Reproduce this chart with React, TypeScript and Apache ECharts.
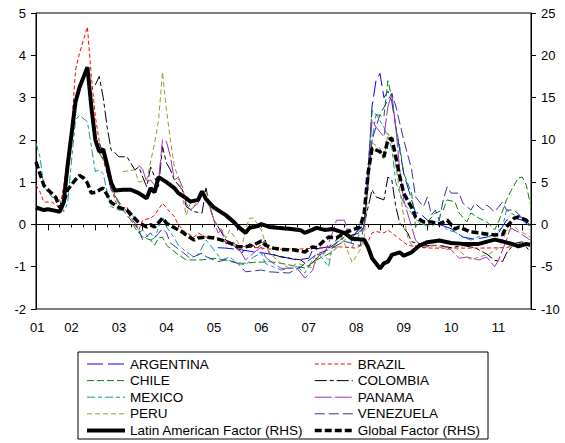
import React, { useEffect, useRef } from "react";
import * as echarts from "echarts";

// x = months since Jan 2001 (Jan 2001 = 0); countries on LHS, factors on RHS
const yearLabelMonths = [9.3, 18, 30, 42, 54, 66, 78, 90, 102, 114, 126];
const quarterTicks = Array.from({ length: 42 }, (_, i) => 9 + i * 3);
const yearTicks = [12, 24, 36, 48, 60, 72, 84, 96, 108, 120, 132];

const argentina = [[55,-0.55],[57,-0.56],[61,-0.6],[64,-0.65],[67,-0.68],[71,-0.76],[75,-0.84],[78,-0.8],[79,-0.6],[81,-0.56],[83,-0.53],[85,-0.37],[87,-0.2],[89,-0.32],[90,-0.18],[92,0.03],[93,1.2],[94,2.8],[95,3.4],[96,3.57],[97,3.0],[98,3.15],[99,2.9],[100,2.3],[101,1.76],[102,1.21],[104,0.58],[105,0.27],[106,0.27],[108,0.1],[111,0.0],[114,-0.1],[117,-0.3],[120,-0.35],[123,-0.3],[126,-0.2],[128,0.1],[130,0.15],[132,0.1],[134,-0.05]];
const brazil = [[9,0.93],[10,0.77],[11,0.53],[13,0.53],[15,0.39],[16,0.89],[18,2.3],[19,3.65],[20,4.05],[22,4.67],[23,3.5],[24,2.55],[25,1.96],[26,1.52],[28,0.89],[29,0.58],[30,0.34],[32,0.42],[33,0.1],[35,-0.13],[36,0.1],[38,0.15],[39,0.22],[41,0.5],[42,0.39],[44,0.18],[45,-0.01],[47,-0.2],[49,-0.3],[50,-0.2],[52,-0.3],[55,-0.32],[57,-0.41],[60,-0.49],[62,-0.53],[66,-0.56],[69,-0.59],[76,-0.58],[86,-0.53],[90,-0.56],[93,-0.4],[94,-0.2],[95,-0.17],[97,-0.2],[98,-0.13],[99,-0.2],[101,-0.35],[103,-0.49],[105,-0.53],[109,-0.56],[121,-0.56],[128,-0.55],[131,-0.45],[134,-0.5]];
const chile = [[25,1.69],[27,1.36],[28,1.12],[29,0.65],[31,0.34],[33,0.1],[34,-0.08],[36,-0.3],[38,-0.37],[39,-0.49],[40,-0.32],[41,-0.3],[42,-0.49],[45,-0.72],[47,-0.84],[51,-0.84],[54,-0.8],[57,-0.84],[61,-0.92],[64,-0.9],[68,-0.88],[71,-0.92],[77,-1.03],[80,-0.84],[84,-0.65],[87,-0.37],[90,-0.2],[92,-0.01],[94,2.7],[95,2.6],[97,2.55],[98,3.4],[99,3.0],[100,2.3],[101,1.84],[102,1.21],[104,0.74],[105,-0.06],[107,0.1],[108,0.06],[110,0.27],[112,0.34],[113,0.58],[115,0.53],[116,0.27],[118,0.06],[119,0.27],[121,0.15],[123,0.06],[125,-0.13],[126,0.06],[128,0.58],[129,0.77],[131,1.1],[132,1.12],[133,0.93],[134,0.5]];
const colombia = [[24,3.3],[25,3.5],[26,3.0],[27,2.3],[28,1.76],[29,1.69],[30,1.6],[32,1.6],[33,1.45],[34,1.29],[35,1.36],[36,1.12],[37,0.89],[38,1.36],[39,1.12],[40,0.89],[41,1.84],[42,1.45],[43,1.29],[44,1.05],[46,0.82],[47,0.42],[49,0.3],[51,0.27],[52,0.86],[53,0.42],[54,0.1],[56,-0.2],[57,-0.37],[59,-0.49],[61,-0.68],[63,-0.45],[65,-0.56],[67,-0.37],[68,-0.68],[71,-0.77],[76,-0.84],[78,-1.0],[81,-0.7],[84,-0.5],[87,-0.3],[91,-0.2],[92,0.0],[94,0.82],[95,0.65],[97,0.58],[98,1.12],[99,1.05],[100,0.42],[101,0.03],[103,-0.2],[104,-0.41],[108,-0.5],[111,-0.5],[114,-0.55],[117,-0.5],[120,-0.55],[123,-0.7],[125,-0.85],[127,-0.88],[128,-0.68],[130,-0.45],[132,-0.41],[134,-0.65]];
const mexico = [[9,1.93],[10,1.6],[11,0.89],[13,0.65],[15,0.58],[16,0.3],[17,0.5],[18,1.52],[19,2.47],[20,2.58],[22,2.43],[23,1.84],[24,1.25],[25,1.29],[26,1.2],[27,0.77],[28,0.42],[30,0.34],[32,0.34],[34,0.15],[35,-0.2],[36,-0.13],[38,-0.37],[39,-0.32],[41,0.18],[42,-0.06],[44,-0.32],[45,-0.49],[47,-0.65],[49,-0.77],[50,-0.72],[52,-0.37],[54,-0.6],[56,-0.84],[58,-0.77],[60,-0.92],[62,-0.96],[64,-0.77],[66,-0.68],[67,-0.92],[69,-1.0],[71,-1.08],[75,-1.0],[77,-1.15],[80,-0.68],[81,-0.75],[83,-1.0],[84,-0.53],[86,-0.37],[88,-0.06],[89,-0.53],[91,-0.2],[92,-0.06],[94,2.0],[95,2.6],[97,2.3],[99,1.8],[100,1.0],[102,0.5],[106,0.03],[109,-0.06],[111,0.1],[113,-0.13],[115,-0.18],[117,-0.3],[119,-0.37],[122,-0.25],[124,-0.3],[127,-0.06],[128,0.34],[130,0.22],[132,0.15],[134,-0.06]];
const panama = [[35,1.4],[36,1.3],[37,1.0],[38,1.05],[39,0.93],[40,1.05],[41,2.0],[42,1.96],[43,1.6],[44,1.05],[45,1.12],[46,0.89],[47,0.5],[48,0.34],[50,0.5],[51,0.74],[53,0.39],[54,0.1],[55,-0.2],[56,-0.13],[57,-0.45],[59,-0.42],[61,-0.68],[62,-0.84],[64,-0.68],[66,-0.53],[67,-0.77],[69,-0.92],[71,-1.04],[75,-1.03],[77,-1.27],[79,-1.08],[80,-0.72],[82,-0.68],[84,-0.2],[85,0.1],[87,0.1],[88,-0.2],[89,-0.37],[90,-0.25],[92,-0.06],[94,2.47],[95,2.3],[97,2.07],[98,2.78],[99,3.1],[100,2.3],[101,1.29],[102,0.58],[104,-0.06],[105,-0.37],[107,-0.56],[109,-0.49],[112,-0.5],[114,-0.6],[116,-0.8],[118,-0.77],[121,-0.84],[123,-0.77],[125,-1.0],[126,-0.84],[128,-0.37],[129,-0.08],[131,-0.18],[134,-0.37]];
const peru = [[31,1.25],[34,1.29],[35,1.0],[37,1.05],[39,1.92],[40,2.47],[41,3.6],[42,2.7],[43,2.0],[44,1.36],[45,1.12],[47,0.22],[48,0.5],[49,0.42],[50,0.65],[52,0.82],[53,0.39],[54,0.1],[56,-0.13],[57,-0.32],[58,-0.13],[60,-0.41],[61,-0.56],[62,-0.13],[63,0.15],[64,0.15],[66,-0.13],[67,-0.44],[68,-0.68],[71,-0.92],[73,-1.03],[75,-0.92],[79,-1.03],[81,-0.65],[83,-0.84],[84,-0.53],[86,-0.25],[87,-0.45],[89,-0.9],[91,-0.6],[92,-0.3],[94,1.93],[96,1.8],[97,1.52],[98,2.16],[99,1.93],[101,0.82],[102,0.18],[103,-0.3],[104,-0.49],[108,-0.53],[110,-0.5],[113,-0.6],[115,-0.55],[118,-0.77],[119,-0.84],[121,-0.77],[123,-0.72],[124,-0.68],[126,-0.56],[128,-0.18],[130,-0.06],[131,-0.13],[134,-0.3]];
const venezuela = [[25,1.93],[26,1.69],[27,1.22],[28,0.82],[30,0.53],[32,0.3],[34,0.03],[35,-0.13],[36,-0.37],[38,-0.2],[39,-0.32],[41,-0.1],[42,-0.2],[43,-0.44],[46,-0.65],[48,-0.8],[51,-0.68],[52,-0.76],[55,-0.88],[57,-0.84],[60,-0.92],[62,-1.12],[66,-1.08],[68,-1.12],[73,-1.15],[76,-1.0],[80,-0.7],[83,-0.6],[87,-0.4],[91,-0.5],[92,0.0],[94,2.0],[96,2.6],[99,3.1],[100,2.8],[102,2.0],[104,1.3],[105,0.65],[107,0.42],[108,0.65],[109,0.22],[110,0.34],[111,0.1],[112,0.58],[113,0.89],[114,0.74],[116,0.74],[117,0.5],[119,0.34],[120,0.5],[122,0.34],[123,0.46],[125,0.3],[127,0.53],[128,0.34],[130,0.34],[132,0.15],[134,-0.01]];
const latinFactor = [[9,2.0],[11,1.7],[12,1.8],[14,1.6],[15,1.5],[16,2.6],[17,7.0],[19,14.5],[20,16.2],[22,18.6],[23,13.9],[24,10.0],[25,8.6],[26,8.9],[27,7.0],[28,4.9],[29,4.0],[31,4.1],[33,4.1],[34,3.9],[35,3.7],[37,3.1],[38,4.3],[39,3.8],[40,5.6],[42,5.0],[44,4.3],[45,3.7],[47,3.1],[48,2.7],[50,2.9],[51,3.9],[52,3.0],[54,2.0],[56,1.4],[57,1.1],[59,0.3],[60,-0.2],[62,-1.0],[63,-0.4],[65,-0.2],[66,0.05],[68,-0.3],[70,-0.4],[73,-0.5],[76,-0.7],[77,-1.0],[80,-0.4],[82,-0.65],[84,-0.55],[87,-1.0],[89,-1.7],[92,-1.8],[93,-2.7],[94,-4.0],[96,-5.2],[97,-4.6],[98,-4.4],[99,-3.6],[101,-3.3],[102,-3.7],[104,-3.3],[106,-2.5],[108,-2.1],[111,-1.9],[114,-2.2],[117,-2.3],[121,-2.3],[125,-1.8],[127,-2.0],[130,-2.4],[131,-2.6],[133,-2.3],[134,-2.4]];
const globalFactor = [[9,7.4],[11,4.6],[12,4.1],[14,3.2],[15,2.0],[16,2.6],[17,4.1],[19,5.3],[20,5.8],[21,5.5],[22,4.9],[23,3.7],[24,3.8],[26,4.3],[27,3.5],[28,2.6],[30,2.0],[32,1.7],[34,0.7],[35,0.2],[37,-0.3],[38,-0.05],[39,-0.3],[41,0.75],[42,0.15],[44,-0.4],[46,-0.9],[47,-1.25],[49,-1.85],[50,-1.6],[52,-1.5],[54,-1.6],[56,-1.85],[58,-2.2],[60,-2.65],[62,-2.65],[64,-2.45],[66,-1.95],[67,-2.45],[69,-2.8],[71,-2.95],[74,-3.0],[77,-3.25],[79,-2.65],[80,-2.75],[82,-1.85],[83,-1.5],[85,-1.6],[87,-1.0],[89,-0.65],[91,-0.3],[92,1.3],[93,6.1],[94,9.0],[95,8.8],[96,8.6],[97,8.0],[98,10.0],[99,10.2],[100,8.0],[101,5.7],[102,3.7],[104,2.0],[105,0.9],[107,0.3],[109,0.3],[111,0.05],[113,0.5],[115,-0.55],[116,-0.3],[119,-0.9],[121,-1.0],[125,-1.25],[127,-1.2],[128,-0.3],[130,0.75],[131,0.9],[133,0.5],[134,-0.05]];

const FONT = "Liberation Sans, Arial, Helvetica, sans-serif";

const countrySeries = [
  { name: "ARGENTINA", data: argentina, color: "#0000ff", dash: [16, 5] },
  { name: "BRAZIL", data: brazil, color: "#ff0000", dash: [4, 2.5] },
  { name: "CHILE", data: chile, color: "#008800", dash: [7, 3] },
  { name: "COLOMBIA", data: colombia, color: "#000000", dash: [12, 3, 4, 3] },
  { name: "MEXICO", data: mexico, color: "#119999", dash: [8, 3, 4, 3] },
  { name: "PANAMA", data: panama, color: "#a030c0", dash: [17, 3] },
  { name: "PERU", data: peru, color: "#999933", dash: [5, 3] },
  { name: "VENEZUELA", data: venezuela, color: "#333399", dash: [10, 4] },
];

export default function App() {
  const ref = useRef<HTMLDivElement>(null);
  useEffect(() => {
    if (!ref.current) return;
    const chart = echarts.init(ref.current, null, { renderer: "svg" });
    const axisText = { color: "#000", fontFamily: FONT, fontSize: 13 };
    const series: any[] = countrySeries.map((c) => ({
      name: c.name,
      type: "line",
      yAxisIndex: 0,
      symbol: "none",
      data: c.data,
      lineStyle: { color: c.color, width: 1, type: c.dash },
      itemStyle: { color: c.color },
    }));
    series.push({
      name: "Latin American Factor (RHS)",
      type: "line",
      yAxisIndex: 1,
      symbol: "none",
      data: latinFactor,
      lineStyle: { color: "#000", width: 4, type: "solid" },
      itemStyle: { color: "#000" },
      z: 4,
    });
    series.push({
      name: "Global Factor (RHS)",
      type: "line",
      yAxisIndex: 1,
      symbol: "none",
      data: globalFactor,
      lineStyle: { color: "#000", width: 3.5, type: [7, 3] },
      itemStyle: { color: "#000" },
      z: 4,
    });
    const legendCommon = {
      orient: "vertical",
      itemWidth: 38,
      itemHeight: 12,
      itemGap: 2.6,
      height: 100,
      selectedMode: false,
      itemStyle: { opacity: 0 },
      lineStyle: { width: "inherit" },
      textStyle: { color: "#000", fontFamily: FONT, fontSize: 13.5 },
      padding: 0,
    };
    chart.setOption({
      animation: false,
      backgroundColor: "#fff",
      grid: { left: 36, right: 34, top: 13, bottom: 134, show: true, borderColor: "#000", borderWidth: 1 },
      xAxis: [
        {
          type: "value",
          min: 9,
          max: 134.2,
          axisLine: { show: true, lineStyle: { color: "#000", width: 1 } },
          splitLine: { show: false },
          axisTick: { show: true, customValues: quarterTicks, length: 3, lineStyle: { color: "#000" } },
          axisLabel: {
            show: true,
            customValues: yearLabelMonths,
            margin: 12,
            ...axisText,
            formatter: (v: number) => String(Math.floor(v / 12) + 1).padStart(2, "0"),
          },
        },
        {
          type: "value",
          min: 9,
          max: 134.2,
          position: "bottom",
          axisLine: { show: false },
          splitLine: { show: false },
          axisTick: { show: true, customValues: yearTicks, length: 6, lineStyle: { color: "#000" } },
          axisLabel: { show: false },
        },
      ],
      yAxis: [
        {
          type: "value",
          min: -2,
          max: 5,
          interval: 1,
          position: "left",
          axisLine: { show: true, lineStyle: { color: "#000" } },
          axisTick: { show: true, length: 5, lineStyle: { color: "#000" } },
          splitLine: { show: false },
          axisLabel: { margin: 10, ...axisText },
        },
        {
          type: "value",
          min: -10,
          max: 25,
          interval: 5,
          position: "right",
          axisLine: { show: true, lineStyle: { color: "#000" } },
          axisTick: { show: true, length: 5, lineStyle: { color: "#000" } },
          splitLine: { show: false },
          axisLabel: { margin: 10, ...axisText },
        },
      ],
      legend: [
        {
          ...legendCommon,
          left: 85,
          top: 357,
          data: ["ARGENTINA", "CHILE", "MEXICO", "PERU", "Latin American Factor (RHS)"],
        },
        {
          ...legendCommon,
          left: 313,
          top: 357,
          data: ["BRAZIL", "COLOMBIA", "PANAMA", "VENEZUELA", "Global Factor (RHS)"],
        },
      ],
      graphic: [
        {
          type: "rect",
          shape: { x: 78, y: 352, width: 410, height: 87 },
          style: { fill: "none", stroke: "#000", lineWidth: 1 },
          silent: true,
        },
      ],
      series,
    });
    return () => chart.dispose();
  }, []);
  return (
    <div
      ref={ref}
      style={{ position: "fixed", left: 0, top: 0, width: 565, height: 443, background: "#fff" }}
    />
  );
}
